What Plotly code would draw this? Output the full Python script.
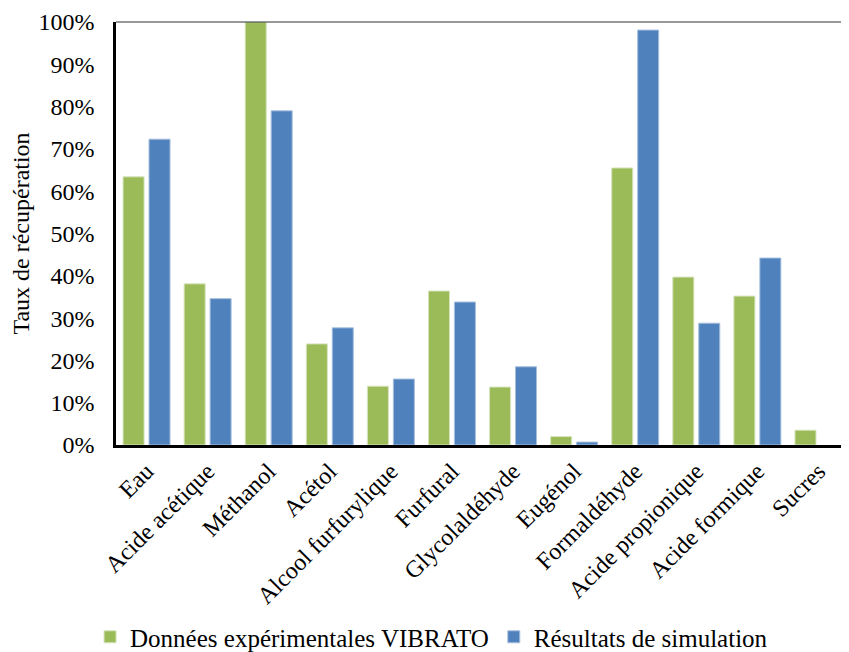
import plotly.graph_objects as go

categories = ["Eau", "Acide acétique", "Méthanol", "Acétol", "Alcool furfurylique",
              "Furfural", "Glycolaldéhyde", "Eugénol", "Formaldéhyde",
              "Acide propionique", "Acide formique", "Sucres"]
experimental = [0.634, 0.381, 1.00, 0.239, 0.139, 0.364, 0.137, 0.020, 0.655, 0.397, 0.352, 0.035]
simulation = [0.723, 0.346, 0.790, 0.277, 0.156, 0.338, 0.185, 0.007, 0.981, 0.288, 0.442, None]
y_ticks = [0, 0.1, 0.2, 0.3, 0.4, 0.5, 0.6, 0.7, 0.8, 0.9, 1.0]
y_tick_labels = ["0%", "10%", "20%", "30%", "40%", "50%", "60%", "70%", "80%", "90%", "100%"]

FONT = "Liberation Serif, Times New Roman, serif"

fig = go.Figure()
fig.add_trace(go.Bar(
    x=categories, y=experimental, name="Données expérimentales VIBRATO",
    marker=dict(color="#9BBB59", line=dict(color="#D7E4BD", width=1)),
))
fig.add_trace(go.Bar(
    x=categories, y=simulation, name="Résultats de simulation",
    marker=dict(color="#4F81BD", line=dict(color="#A7C0DE", width=1)),
))

fig.update_layout(
    width=841, height=644,
    margin=dict(l=108, r=0, t=14, b=207, autoexpand=False),
    paper_bgcolor="white", plot_bgcolor="white",
    barmode="group", bargap=0.15, bargroupgap=0.19,
    font=dict(family=FONT, size=24, color="black"),
    showlegend=True,
    legend=dict(orientation="h", x=0.4305, xanchor="center", y=-0.454, yanchor="middle",
                font=dict(family=FONT, size=25), itemwidth=30,
                traceorder="normal"),
    xaxis=dict(tickangle=-45, showline=True, linecolor="black", linewidth=2.5,
               ticks="", showgrid=False, tickfont=dict(family=FONT, size=24),
               automargin=False),
    yaxis=dict(range=[0, 1.0], tickvals=y_ticks, ticktext=y_tick_labels,
               showline=True, linecolor="black", linewidth=2.5, ticks="",
               showgrid=False, zeroline=False, tickfont=dict(family=FONT, size=24),
               ticklabelstandoff=14, automargin=False,
               title=dict(text="Taux de récupération", font=dict(family=FONT, size=24),
                          standoff=6)),
    shapes=[dict(type="line", xref="paper", yref="paper", x0=0, x1=1, y0=1, y1=1,
                 line=dict(color="#333333", width=1.2))],
)

fig.write_html("out.html")
